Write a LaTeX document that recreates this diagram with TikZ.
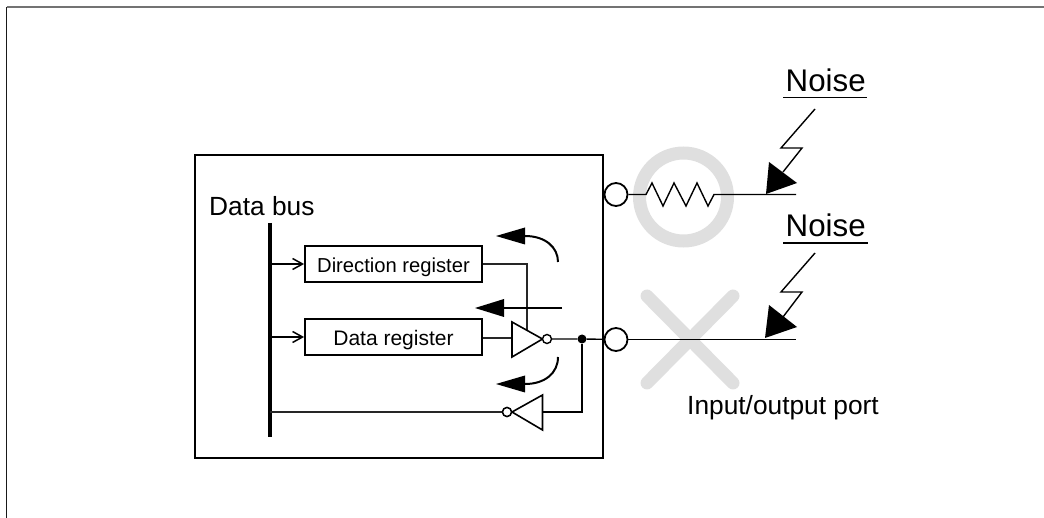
\documentclass[tikz,border=0pt]{standalone}
\usepackage{fontspec}
\setmainfont{Liberation Sans}
\usetikzlibrary{arrows.meta}
\definecolor{markgray}{HTML}{DFDFDF}
\tikzset{
  x=1pt,y=-1pt,
  wire/.style={line width=1.4pt,line join=miter},
  thinwire/.style={line width=1.3pt,draw=black!85,line join=miter},
  regbox/.style={draw,line width=1.8pt,minimum height=36pt,inner sep=0pt,text height=17pt,text depth=0pt},
  port/.style={circle,draw,fill=white,line width=1.8pt,minimum size=23pt,inner sep=0pt},
  bubble/.style={circle,draw,fill=white,line width=1.4pt,minimum size=9pt,inner sep=0pt},
  dotj/.style={circle,fill=black,minimum size=9pt,inner sep=0pt},
  gate/.style={draw,fill=white,line width=1.6pt,line join=miter},
  headfill/.style={fill=black,draw=none},
  graymark/.style={draw=markgray,line width=13pt},
  bigtext/.style={anchor=base west,inner sep=0pt,font=\fontsize{31.3}{33}\selectfont},
  midtext/.style={anchor=base west,inner sep=0pt,font=\fontsize{26.3}{28}\selectfont},
  smallarrow/.style={line width=1.6pt,-{Straight Barb[length=10pt,width=11pt,line width=1.5pt]}},
  bolt/.style={line width=1.4pt,line join=miter}
}
\begin{document}
\begin{tikzpicture}
\useasboundingbox (0,0) rectangle (1044,518);
% frame
\coordinate (fbl) at (6.5,518); \coordinate (ftl) at (6.5,7); \coordinate (ftr) at (1044,7);
\draw[line width=1.5pt,draw=black!55] (ftl) -- (ftr);
\draw[line width=1.2pt,draw=black!90] (fbl) -- (ftl);
% gray marks
\draw[graymark] (683.5,197) circle[radius=44];
\draw[graymark,line cap=round] (647,296) -- (733,383);
\draw[graymark,line cap=round] (733,296) -- (647,383);
% main box
\node[draw,line width=2.2pt,minimum width=408pt,minimum height=303pt,inner sep=0pt] (chip) at (399,306.5) {};
% bus
\coordinate (bust) at (270,223); \coordinate (busb) at (270,437);
\draw[line width=4pt] (bust) -- (busb);
\node[midtext] (dbus) at (209,216) {Data bus};
% registers
\node[regbox,minimum width=177pt,font=\fontsize{20.2}{22}\selectfont] (dir) at (393.5,264) {Direction register};
\node[regbox,minimum width=177pt,font=\fontsize{21}{22}\selectfont] (dat) at (393.5,337) {Data register};
\coordinate (b1) at (270,264); \coordinate (b2) at (270,337);
\draw[smallarrow] (b1) -- (dir.west);
\draw[smallarrow] (b2) -- (dat.west);
% output inverter
\coordinate (t1a) at (512,322); \coordinate (t1b) at (512,357); \coordinate (t1c) at (542.5,339);
\coordinate (t1in) at (512,338);
\coordinate (t1ctl) at (527,330);
\coordinate (dirx) at (527,264);
\draw[thinwire] (dir.east) -- (dirx) -- (t1ctl);
\draw[thinwire] (dat.east |- t1in) -- (t1in);
\draw[gate] (t1a) -- (t1c) -- (t1b) -- cycle;
\node[bubble] (b1o) at (547,339) {};
% ports
\node[port] (p1) at (616,194.5) {};
\node[port] (p2) at (616,339.5) {};
\node[dotj] (j) at (582,339) {};
\draw[wire] (b1o) -- (j) -- (p2);
% input inverter
\coordinate (t2a) at (542.5,395); \coordinate (t2b) at (542.5,430); \coordinate (t2c) at (512,412);
\node[bubble] (b2o) at (507,412) {};
\coordinate (t2in) at (542.5,412); \coordinate (jd) at (582,412); \coordinate (b3) at (270,412);
\draw[wire] (j) -- (jd) -- (t2in);
\draw[thinwire] (b2o) -- (b3);
\draw[gate] (t2a) -- (t2c) -- (t2b) -- cycle;
\node[bubble] at (b2o) {};
% direction arrows
\coordinate (a1s) at (558,262); \coordinate (a1e) at (525,236);
\draw[line width=2pt] (a1s) .. controls (558,247) and (545,236) .. (a1e);
\fill[headfill] (496,236) -- (525,227.5) -- (525,244.5) -- cycle;
\coordinate (a2s) at (562,308); \coordinate (a2e) at (504,308);
\draw[line width=2pt] (a2s) -- (a2e);
\fill[headfill] (475,308) -- (504,299) -- (504,317) -- cycle;
\coordinate (a3s) at (558,357); \coordinate (a3e) at (525,384);
\draw[line width=2pt] (a3s) .. controls (558,373) and (545,384) .. (a3e);
\fill[headfill] (496,384) -- (525,375.5) -- (525,392.5) -- cycle;
% resistor line
\coordinate (rend) at (796,194.5); \coordinate (lend) at (796,339.5);
\draw[wire] (p1) -- (646,194.5) -- (652,183) -- (663,206) -- (674,183) -- (686,206) -- (697,183) -- (708,206) -- (714,194.5) -- (rend);
\draw[wire] (p2) -- (lend);
% noise 1
\node[bigtext] (n1) at (785.5,92) {Noise};
\coordinate (u1a) at (783,97.5); \coordinate (u1b) at (867,97.5);
\draw[line width=1.4pt] (u1a) -- (u1b);
\draw[bolt] (815,109) -- (781,148) -- (802,148) -- (783,172);
\fill[headfill] (766,194) -- (769,162) -- (797,183) -- cycle;
% noise 2
\node[bigtext] (n2) at (785.5,237) {Noise};
\coordinate (u2a) at (783,243); \coordinate (u2b) at (868,243);
\draw[line width=1.4pt] (u2a) -- (u2b);
\draw[bolt] (815,253) -- (781,292) -- (802,292) -- (783,317);
\fill[headfill] (765,338) -- (769,305) -- (797,327) -- cycle;
\node[midtext] (io) at (687,414) {Input/output port};
\end{tikzpicture}
\end{document}
